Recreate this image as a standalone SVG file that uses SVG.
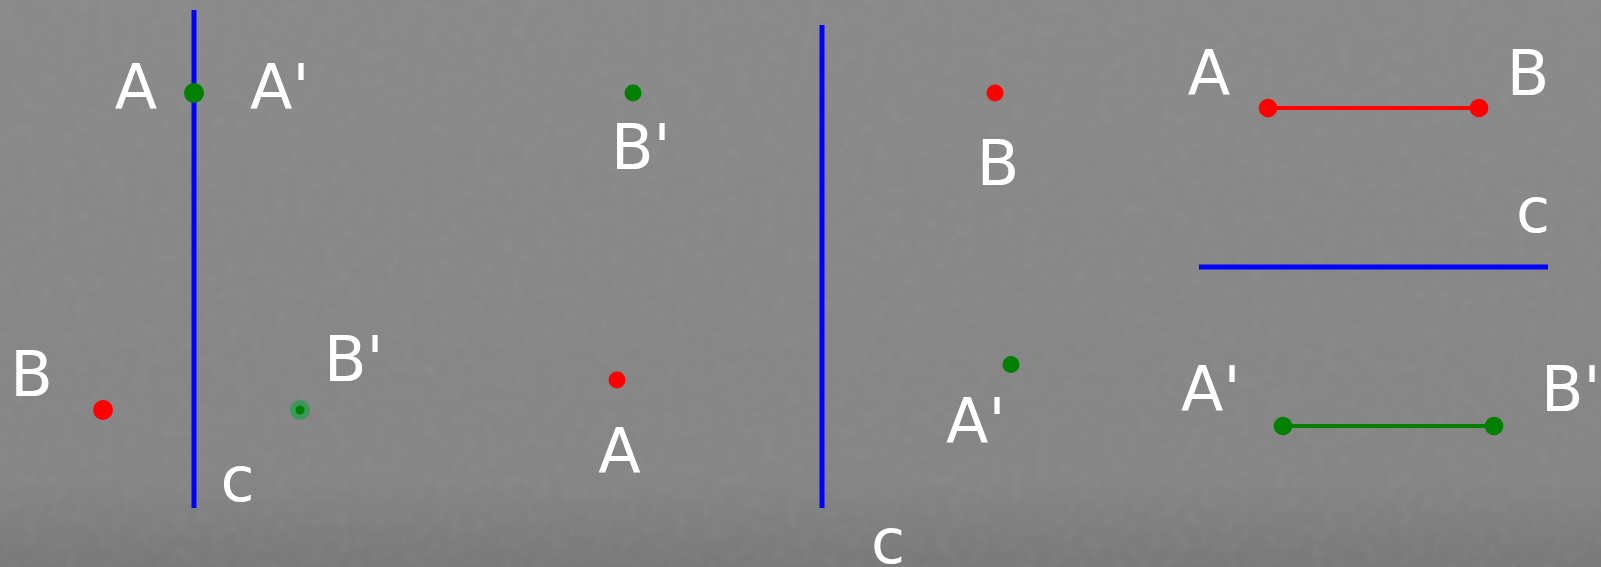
<svg xmlns="http://www.w3.org/2000/svg" width="1601" height="567" viewBox="0 0 1601 567">
<defs>
<linearGradient id="bg" x1="0" y1="0" x2="0" y2="1">
<stop offset="0" stop-color="#8a8a8a"/>
<stop offset="0.85" stop-color="#858585"/>
<stop offset="1" stop-color="#797979"/>
</linearGradient>
<filter id="noise" x="0" y="0" width="100%" height="100%">
<feTurbulence type="fractalNoise" baseFrequency="0.08" numOctaves="3" seed="4" result="n"/>
<feColorMatrix type="matrix" values="0 0 0 0 0.4  0 0 0 0 0.4  0 0 0 0 0.4  0 0 0 -1.2 0.75" in="n"/>
</filter>
<style>
.lbl{font-family:"DejaVu Sans",sans-serif;font-size:62px;fill:#ffffff}
.mid{text-anchor:middle}
.axis{stroke:#0000ff;stroke-width:5;fill:none}
.red{fill:#ff0000}
.grn{fill:#007f00}
.seg-r{stroke:#ff0000;stroke-width:4}
.seg-g{stroke:#007f00;stroke-width:4}
</style>
</defs>
<rect width="1601" height="567" fill="url(#bg)"/>
<rect width="1601" height="567" filter="url(#noise)" opacity="0.18"/>

<g id="connectors">
<line id="axis1" class="axis" x1="194" y1="10" x2="194" y2="508"/>
<line id="axis2" class="axis" x1="822" y1="25" x2="822" y2="508"/>
<line id="axis3" class="axis" x1="1199" y1="267" x2="1548" y2="267"/>
<line id="segAB" class="seg-r" x1="1268" y1="108" x2="1479" y2="108"/>
<line id="segA2B2" class="seg-g" x1="1283" y1="426" x2="1494" y2="426"/>
</g>

<g id="p1-A"><text class="lbl mid" x="136" y="109">A</text></g>
<g id="p1-A2"><circle class="grn" cx="194" cy="93" r="10"/><text class="lbl" x="250" y="109">A'</text></g>
<g id="p1-B"><circle class="red" cx="103" cy="410" r="10"/><text class="lbl mid" x="31.5" y="396">B</text></g>
<g id="p1-B2"><circle cx="300" cy="410" r="10" fill="#2f9a55" opacity="0.85"/><circle class="grn" cx="300" cy="410" r="4.5"/><text class="lbl" x="324" y="381">B'</text></g>
<g id="p1-c"><text class="lbl mid" x="237.5" y="501">c</text></g>

<g id="p2-B2"><circle class="grn" cx="633" cy="93" r="8.5"/><text class="lbl" x="611" y="169">B'</text></g>
<g id="p2-A"><circle class="red" cx="617" cy="380" r="8.5"/><text class="lbl mid" x="619.5" y="473">A</text></g>
<g id="p2-B"><circle class="red" cx="995" cy="93" r="8.5"/><text class="lbl mid" x="998" y="185">B</text></g>
<g id="p2-A2"><circle class="grn" cx="1011" cy="364.5" r="8.5"/><text class="lbl" x="946" y="443">A'</text></g>
<g id="p2-c"><text class="lbl mid" x="888" y="563">c</text></g>

<g id="p3-A"><circle class="red" cx="1268" cy="108" r="9.3"/><text class="lbl mid" x="1209" y="95">A</text></g>
<g id="p3-B"><circle class="red" cx="1479" cy="108" r="9.3"/><text class="lbl mid" x="1528" y="95">B</text></g>
<g id="p3-c"><text class="lbl mid" x="1533" y="232">c</text></g>
<g id="p3-A2"><circle class="grn" cx="1283" cy="426" r="9.3"/><text class="lbl" x="1181" y="411">A'</text></g>
<g id="p3-B2"><circle class="grn" cx="1494" cy="426" r="9.3"/><text class="lbl" x="1541" y="411">B'</text></g>
</svg>
